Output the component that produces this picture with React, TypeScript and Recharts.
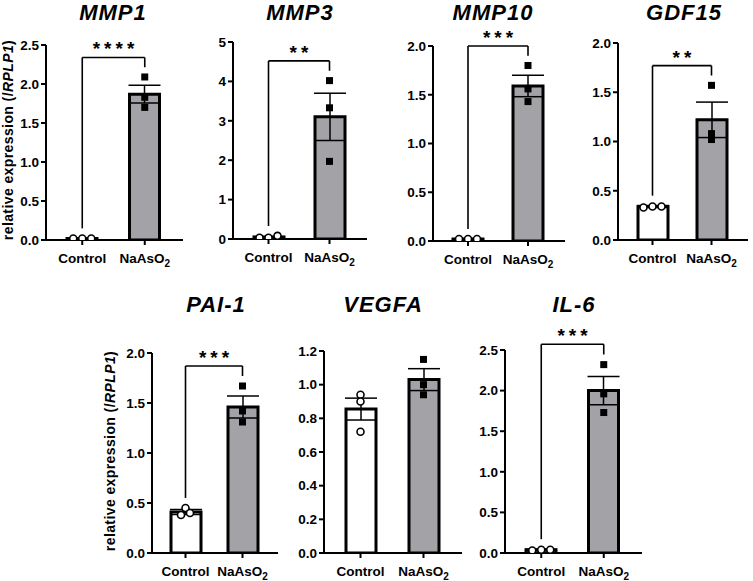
import React from 'react';
import { ComposedChart, Bar, Cell, ErrorBar, Scatter, XAxis, YAxis, ReferenceLine } from 'recharts';

// groups on the x axis
const groups = ['Control', 'NaAsO2'];

// bar heights (mean) and SEM per gene
const mmp1Mean = [0.02, 1.87];
const mmp1Sem = [0.004, 0.115];
const mmp1Control = [0.02, 0.02, 0.02];
const mmp1NaAsO2 = [2.09, 1.83, 1.7];
const mmp1Ticks = [0, 0.5, 1, 1.5, 2, 2.5];

const mmp3Mean = [0.05, 3.1];
const mmp3Sem = [0.01, 0.6];
const mmp3Control = [0.03, 0.08, 0.03];
const mmp3NaAsO2 = [4.02, 3.33, 1.97];
const mmp3Ticks = [0, 1, 2, 3, 4, 5];

const mmp10Mean = [0.02, 1.59];
const mmp10Sem = [0.003, 0.11];
const mmp10Control = [0.02, 0.02, 0.02];
const mmp10NaAsO2 = [1.8, 1.56, 1.43];
const mmp10Ticks = [0, 0.5, 1, 1.5, 2];

const gdf15Mean = [0.34, 1.22];
const gdf15Sem = [0.01, 0.18];
const gdf15Control = [0.33, 0.34, 0.34];
const gdf15NaAsO2 = [1.57, 1.08, 1.02];
const gdf15Ticks = [0, 0.5, 1, 1.5, 2];

const pai1Mean = [0.41, 1.46];
const pai1Sem = [0.025, 0.11];
const pai1Control = [0.45, 0.4, 0.38];
const pai1NaAsO2 = [1.67, 1.42, 1.31];
const pai1Ticks = [0, 0.5, 1, 1.5, 2];

const vegfaMean = [0.855, 1.03];
const vegfaSem = [0.065, 0.065];
const vegfaControl = [0.94, 0.9, 0.72];
const vegfaNaAsO2 = [1.15, 1.0, 0.94];
const vegfaTicks = [0, 0.2, 0.4, 0.6, 0.8, 1.0, 1.2];

const il6Mean = [0.04, 2.0];
const il6Sem = [0.005, 0.175];
const il6Control = [0.04, 0.04, 0.03];
const il6NaAsO2 = [2.32, 1.96, 1.73];
const il6Ticks = [0, 0.5, 1, 1.5, 2, 2.5];

const FONT = '"Liberation Sans", Arial, sans-serif';
const GREY = '#a3a3a7';
const Y_W = 42;
const TOP = 34;
const BOTTOM = 34;
const RIGHT = 4;

// spread points that sit on top of each other (like GraphPad does)
function spread(values: number[], max: number) {
  const eps = 0.02 * max;
  const order = values.map((v, i) => i).sort((a, b) => values[a] - values[b]);
  const dx = values.map(() => 0);
  let cluster: number[] = [order[0]];
  const flush = () => {
    const n = cluster.length;
    cluster.forEach((idx, k) => { dx[idx] = (k - (n - 1) / 2) * 9; });
  };
  for (let k = 1; k < order.length; k++) {
    if (values[order[k]] - values[order[k - 1]] < eps) cluster.push(order[k]);
    else { flush(); cluster = [order[k]]; }
  }
  flush();
  return dx;
}

const renderPoint = (props: any) => {
  const { cx, cy, payload } = props;
  if (cx == null || cy == null) return <g />;
  const x = cx + (payload.dx || 0);
  if (payload.name === 'Control') {
    return <circle cx={x} cy={cy} r={3.5} fill="#fff" stroke="#000" strokeWidth={1.6} />;
  }
  return <rect x={x - 3.5} y={cy - 3.5} width={7} height={7} fill="#000" />;
};

const GroupTick = (props: any) => {
  const { x, y, payload } = props;
  const v = payload.value;
  return (
    <text x={x} y={y + 16} textAnchor="middle" fontSize={13.5} fontWeight="bold" fill="#000" fontFamily={FONT}>
      {v === 'NaAsO2' ? (
        <>
          <tspan>NaAsO</tspan>
          <tspan fontSize={10} dy={4}>2</tspan>
        </>
      ) : v}
    </text>
  );
};

type PanelDef = {
  title: string; titleX: number; titleY: number;
  mean: number[]; sem: number[]; control: number[]; naAsO2: number[];
  ticks: number[]; dec: number; stars: string;
  axisX: number; yTop: number; y0: number; right: number;
};

function Panel({ p }: { p: PanelDef }) {
  const plotH = p.y0 - p.yTop;
  const plotW = p.right - p.axisX;
  const width = Y_W + plotW + RIGHT;
  const height = TOP + plotH + BOTTOM;
  const max = p.ticks[p.ticks.length - 1];
  const barData = groups.map((g, i) => ({ name: g, mean: p.mean[i], err: p.sem[i] }));
  const dxC = spread(p.control, max);
  const dxN = spread(p.naAsO2, max);
  const pts = [
    ...p.control.map((v, i) => ({ name: 'Control', v, dx: dxC[i] })),
    ...p.naAsO2.map((v, i) => ({ name: 'NaAsO2', v, dx: dxN[i] })),
  ];
  const gap = 0.05 * max;
  const legC = Math.max(...p.control, p.mean[0] + p.sem[0]) + gap;
  const legN = Math.max(...p.naAsO2, p.mean[1] + p.sem[1]) + gap;
  const topY = Math.max(legC, legN) + gap;
  const line = { stroke: '#000', strokeWidth: 1.6, ifOverflow: 'visible' as const };

  return (
    <div style={{ position: 'absolute', left: p.axisX - Y_W, top: p.yTop - TOP }}>
      <ComposedChart width={width} height={height} data={barData} margin={{ top: TOP, right: RIGHT, bottom: 0, left: 0 }}>
        <XAxis
          dataKey="name"
          allowDuplicatedCategory={false}
          height={BOTTOM}
          padding={{ left: 5, right: 7 }}
          tick={<GroupTick />}
          tickSize={5}
          axisLine={{ stroke: '#000', strokeWidth: 2 }}
          tickLine={{ stroke: '#000', strokeWidth: 2 }}
          interval={0}
        />
        <YAxis
          type="number"
          domain={[0, max]}
          ticks={p.ticks}
          allowDataOverflow
          width={Y_W}
          tickSize={5}
          tickFormatter={(v: number) => v.toFixed(p.dec)}
          tick={{ fill: '#000', fontSize: 13.5, fontWeight: 'bold', fontFamily: FONT }}
          axisLine={{ stroke: '#000', strokeWidth: 2 }}
          tickLine={{ stroke: '#000', strokeWidth: 2 }}
        />
        <Bar dataKey="mean" barSize={30} stroke="#000" strokeWidth={3} isAnimationActive={false}>
          {barData.map((d, i) => (
            <Cell key={d.name} fill={i === 0 ? '#fff' : GREY} />
          ))}
          <ErrorBar dataKey="err" width={16} stroke="#000" strokeWidth={1.5} direction="y" />
        </Bar>
        <Scatter data={pts} dataKey="v" shape={renderPoint} isAnimationActive={false} />
        {p.stars && (
          <ReferenceLine segment={[{ x: 'Control', y: legC }, { x: 'Control', y: topY }]} {...line} />
        )}
        {p.stars && (
          <ReferenceLine segment={[{ x: 'NaAsO2', y: legN }, { x: 'NaAsO2', y: topY }]} {...line} />
        )}
        {p.stars && (
          <ReferenceLine
            segment={[{ x: 'Control', y: topY }, { x: 'NaAsO2', y: topY }]}
            {...line}
            label={{
              position: 'top',
              content: (lp: any) => {
                const vb = lp.viewBox || {};
                return (
                  <text x={vb.x + vb.width / 2 + 2} y={vb.y - 2} textAnchor="middle" fontSize={19} fontWeight="bold"
                    fontFamily={FONT} fill="#000" letterSpacing={4}>
                    {p.stars}
                  </text>
                );
              },
            }}
          />
        )}
      </ComposedChart>
    </div>
  );
}

const panels: PanelDef[] = [
  { title: 'MMP1', titleX: 113, titleY: 20, mean: mmp1Mean, sem: mmp1Sem, control: mmp1Control, naAsO2: mmp1NaAsO2, ticks: mmp1Ticks, dec: 1, stars: '****', axisX: 46, yTop: 45, y0: 240, right: 183 },
  { title: 'MMP3', titleX: 300, titleY: 20, mean: mmp3Mean, sem: mmp3Sem, control: mmp3Control, naAsO2: mmp3NaAsO2, ticks: mmp3Ticks, dec: 0, stars: '**', axisX: 233, yTop: 42, y0: 239, right: 367 },
  { title: 'MMP10', titleX: 493, titleY: 20, mean: mmp10Mean, sem: mmp10Sem, control: mmp10Control, naAsO2: mmp10NaAsO2, ticks: mmp10Ticks, dec: 1, stars: '***', axisX: 433, yTop: 46, y0: 241, right: 565 },
  { title: 'GDF15', titleX: 684, titleY: 20, mean: gdf15Mean, sem: gdf15Sem, control: gdf15Control, naAsO2: gdf15NaAsO2, ticks: gdf15Ticks, dec: 1, stars: '**', axisX: 618, yTop: 43, y0: 240, right: 748 },
  { title: 'PAI-1', titleX: 216, titleY: 312, mean: pai1Mean, sem: pai1Sem, control: pai1Control, naAsO2: pai1NaAsO2, ticks: pai1Ticks, dec: 1, stars: '***', axisX: 152, yTop: 353, y0: 553, right: 278 },
  { title: 'VEGFA', titleX: 383, titleY: 312, mean: vegfaMean, sem: vegfaSem, control: vegfaControl, naAsO2: vegfaNaAsO2, ticks: vegfaTicks, dec: 1, stars: '', axisX: 324, yTop: 351, y0: 553, right: 462 },
  { title: 'IL-6', titleX: 574, titleY: 312, mean: il6Mean, sem: il6Sem, control: il6Control, naAsO2: il6NaAsO2, ticks: il6Ticks, dec: 1, stars: '***', axisX: 505, yTop: 350, y0: 553, right: 642 },
];

const YLabel = ({ x, y }: { x: number; y: number }) => (
  <text transform={`translate(${x},${y}) rotate(-90)`} textAnchor="middle" fontSize={14} letterSpacing={0.4} fontWeight="bold" fontFamily={FONT} fill="#000">
    relative expression (/<tspan fontStyle="italic">RPLP1</tspan>)
  </text>
);

export default function App() {
  return (
    <div style={{ position: 'absolute', left: 0, top: 0, width: 753, height: 581, background: '#fff', fontFamily: FONT }}>
      {panels.map((p) => (
        <Panel key={p.title} p={p} />
      ))}
      <svg width={753} height={581} style={{ position: 'absolute', left: 0, top: 0, pointerEvents: 'none' }}>
        {panels.map((p) => (
          <text key={p.title} x={p.titleX} y={p.titleY} textAnchor="middle" fontSize={22} letterSpacing={1} fontWeight="bold" fontStyle="italic" fontFamily={FONT} fill="#000">
            {p.title}
          </text>
        ))}
        <YLabel x={13} y={140} />
        <YLabel x={115} y={451} />
      </svg>
    </div>
  );
}
